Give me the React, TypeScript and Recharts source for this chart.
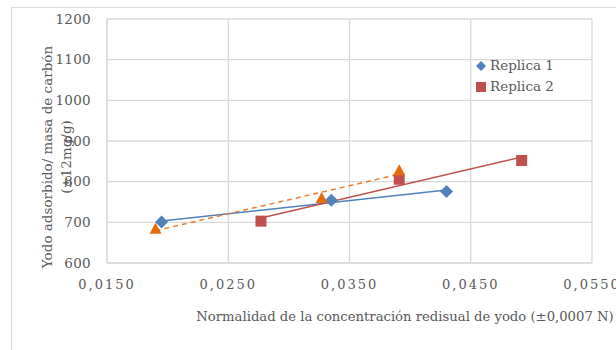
import { CartesianGrid, Scatter, ScatterChart, XAxis, YAxis } from "recharts";

const replica1X = [0.0195, 0.0335, 0.043];
const replica1Y = [701, 754, 776];
const replica2X = [0.0277, 0.0391, 0.0492];
const replica2Y = [703, 806, 852];
const replica3X = [0.019, 0.0327, 0.0391];
const replica3Y = [684, 760, 828];

const seriesNames = ["Replica 1", "Replica 2", "Replica 3"];
const xTicks = [0.015, 0.025, 0.035, 0.045, 0.055];
const yTicks = [600, 700, 800, 900, 1000, 1100, 1200];
const xTitle = "Normalidad de la concentración redisual de yodo (±0,0007 N)";
const yTitle = ["Yodo adsorbido/ masa de carbón", "(±12mg/g)"];

const BLUE = "#4f81bd";
const RED = "#c0504d";
const ORANGE = "#e46c0a";
const GRID = "#d9d9d9";
const TEXT = "#595959";
const FONT = "DejaVu Serif";

type Pt = { x: number; y: number };

const toPoints = (xs: number[], ys: number[]): Pt[] => xs.map((x, i) => ({ x, y: ys[i] }));

// least-squares trendline, drawn between min and max x like Excel does
function trend(xs: number[], ys: number[]): Pt[] {
  const n = xs.length;
  const mx = xs.reduce((a, b) => a + b, 0) / n;
  const my = ys.reduce((a, b) => a + b, 0) / n;
  let sxy = 0;
  let sxx = 0;
  xs.forEach((x, i) => {
    sxy += (x - mx) * (ys[i] - my);
    sxx += (x - mx) * (x - mx);
  });
  const slope = sxy / sxx;
  const x0 = Math.min(...xs);
  const x1 = Math.max(...xs);
  return [
    { x: x0, y: my + slope * (x0 - mx) },
    { x: x1, y: my + slope * (x1 - mx) },
  ];
}

const Diamond = ({ cx, cy }: any) => (
  <polygon points={`${cx},${cy - 6.5} ${cx + 6.5},${cy} ${cx},${cy + 6.5} ${cx - 6.5},${cy}`} fill={BLUE} />
);
const Square = ({ cx, cy }: any) => <rect x={cx - 5.5} y={cy - 5.5} width={11} height={11} fill={RED} />;
const Triangle = ({ cx, cy }: any) => (
  <polygon points={`${cx},${cy - 6} ${cx + 6},${cy + 5} ${cx - 6},${cy + 5}`} fill={ORANGE} />
);
const NoShape = () => <g />;

const fmtX = (v: number) => v.toFixed(4).replace(".", ",");

function LegendBox() {
  const items = [
    { name: seriesNames[0], icon: <svg width={10} height={10}><polygon points="5,0 10,5 5,10 0,5" fill={BLUE} /></svg> },
    { name: seriesNames[1], icon: <svg width={10} height={10}><rect width={10} height={10} fill={RED} /></svg> },
  ];
  return (
    <div
      style={{
        position: "absolute",
        left: 476,
        top: 55,
        fontFamily: FONT,
        fontSize: 13.5,
        color: TEXT,
        lineHeight: "21px",
      }}
    >
      {items.map((it) => (
        <div key={it.name} style={{ display: "flex", alignItems: "center", gap: 4 }}>
          {it.icon}
          <span>{it.name}</span>
        </div>
      ))}
    </div>
  );
}

export default function App() {
  const r1 = toPoints(replica1X, replica1Y);
  const r2 = toPoints(replica2X, replica2Y);
  const r3 = toPoints(replica3X, replica3Y);

  return (
    <div style={{ position: "relative", width: 616, height: 350, overflow: "hidden", background: "#fff" }}>
      <style>{"body{margin:0}"}</style>
      <div
        style={{ position: "absolute", left: 11, top: 7, width: 640, height: 400, border: `1px solid ${GRID}` }}
      />
      <ScatterChart width={616} height={350} margin={{ top: 19, right: 24, bottom: 57, left: 0 }}>
        <CartesianGrid stroke={GRID} strokeWidth={1.3} />
        <XAxis
          type="number"
          dataKey="x"
          domain={[0.015, 0.055]}
          ticks={xTicks}
          tickFormatter={fmtX}
          tickLine={false}
          axisLine={{ stroke: GRID }}
          tickMargin={11}
          height={30}
          tick={{ fill: TEXT, fontFamily: FONT, fontSize: 13, letterSpacing: 2 }}
          allowDataOverflow
        />
        <YAxis
          type="number"
          dataKey="y"
          domain={[600, 1200]}
          ticks={yTicks}
          tickLine={false}
          axisLine={{ stroke: GRID }}
          tickMargin={10}
          width={107}
          tick={{ fill: TEXT, fontFamily: FONT, fontSize: 13.5, letterSpacing: 0.3 }}
        />
        <Scatter data={trend(replica1X, replica1Y)} shape={NoShape} line={{ stroke: BLUE, strokeWidth: 1.5 }} legendType="none" isAnimationActive={false} />
        <Scatter data={trend(replica2X, replica2Y)} shape={NoShape} line={{ stroke: RED, strokeWidth: 1.5 }} legendType="none" isAnimationActive={false} />
        <Scatter
          data={trend(replica3X, replica3Y)}
          shape={NoShape}
          line={{ stroke: "#ed7d31", strokeWidth: 1.5, strokeDasharray: "5 4" }}
          legendType="none"
          isAnimationActive={false}
        />
        <Scatter name={seriesNames[0]} data={r1} shape={Diamond} isAnimationActive={false} />
        <Scatter name={seriesNames[1]} data={r2} shape={Square} isAnimationActive={false} />
        <Scatter name={seriesNames[2]} data={r3} shape={Triangle} legendType="none" isAnimationActive={false} />
        <text x={405} y={321} textAnchor="middle" fill={TEXT} fontFamily={FONT} fontSize={13.2}>
          {xTitle}
        </text>
        <text transform="translate(52,157) rotate(-90)" textAnchor="middle" fill={TEXT} fontFamily={FONT} fontSize={13.5}>
          {yTitle[0]}
        </text>
        <text transform="translate(71,157) rotate(-90)" textAnchor="middle" fill={TEXT} fontFamily={FONT} fontSize={13.5}>
          {yTitle[1]}
        </text>
      </ScatterChart>
      <LegendBox />
    </div>
  );
}
